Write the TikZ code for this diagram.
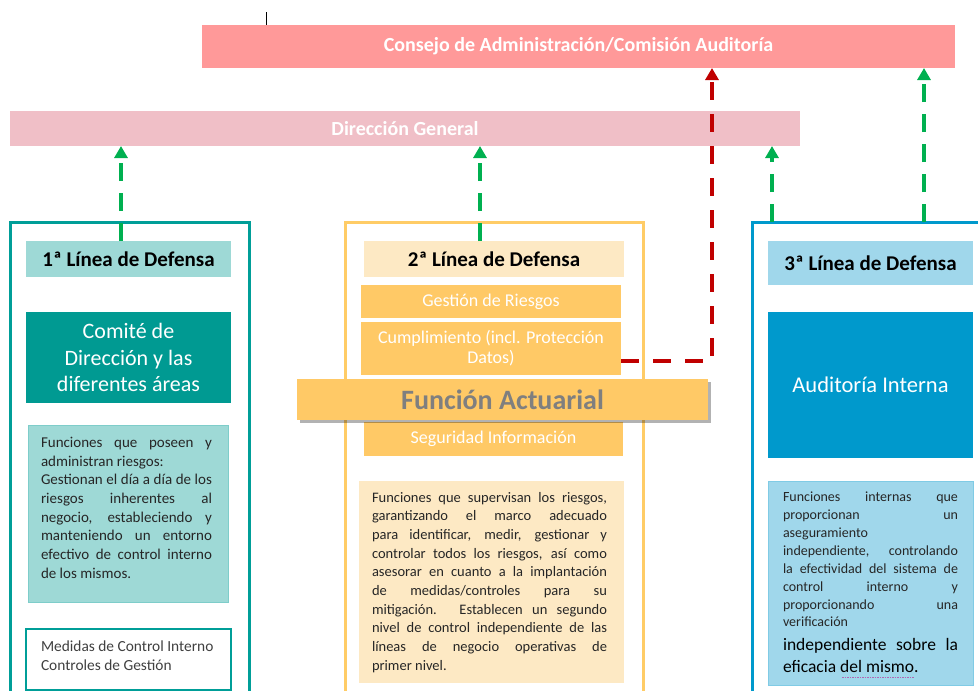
\documentclass[tikz,border=0pt]{standalone}
\usepackage{fontspec}
\setmainfont{Carlito}
\usetikzlibrary{arrows.meta,calc,shadows}
\definecolor{consejoC}{HTML}{FF9999}
\definecolor{direcC}{HTML}{F0BFC7}
\definecolor{tealB}{HTML}{009E98}
\definecolor{tealL}{HTML}{9ED9D6}
\definecolor{tealD}{HTML}{009A92}
\definecolor{orB}{HTML}{FFCC66}
\definecolor{orL}{HTML}{FDE9C4}
\definecolor{orM}{HTML}{FFC966}
\definecolor{blB}{HTML}{0099CC}
\definecolor{blL}{HTML}{A0D7EB}
\definecolor{grA}{HTML}{00B050}
\definecolor{rdA}{HTML}{C00000}
\definecolor{txtC}{HTML}{262626}
\definecolor{faC}{HTML}{7F7F7F}
\newcommand{\jl}[2]{\makebox[#1][s]{#2}}
\tikzset{
  blk/.style={rectangle, inner sep=0pt, outer sep=0pt, draw=none},
  colframe/.style={blk, line width=3pt, fill=white},
  hdr/.style={blk, font=\bfseries\fontsize{21}{24}\selectfont, text=black},
  wtxt/.style={text=white, align=center},
  body/.style={inner sep=0pt, outer sep=0pt, align=left, text=txtC,
               font=\fontsize{14.5}{18.7}\selectfont},
  garrow/.style={draw=grA, line width=4pt, dash pattern=on 18pt off 12pt,
                 -{Triangle[length=12pt,width=13pt]}},
  rarrow/.style={draw=rdA, line width=4pt, dash pattern=on 18pt off 14pt,
                 -{Triangle[length=12pt,width=13pt]}},
}
\begin{document}
\begin{tikzpicture}[x=1pt,y=-1pt]
\useasboundingbox (0,0) rectangle (978,691);
\clip (0,0) rectangle (978,691);

% stray tick
\draw[line width=0.8pt] (266,12) -- (266,27);

% top bars
\node[blk, fill=consejoC, minimum width=753pt, minimum height=43pt,
      font=\bfseries\fontsize{20}{24}\selectfont, text=white] (consejo) at (578.5,46.5)
      {Consejo de Administración/Comisión Auditoría};
\node[blk, fill=direcC, minimum width=790pt, minimum height=35pt,
      font=\bfseries\fontsize{20}{24}\selectfont, text=white] (direccion) at (405,128.5)
      {Dirección General};

% column frames
\node[colframe, draw=tealB, minimum width=239pt, minimum height=520pt] (col1) at (129.5,482) {};
\node[colframe, draw=orB, minimum width=298pt, minimum height=520pt] (col2) at (494,482) {};
\node[colframe, draw=blB, minimum width=260pt, minimum height=520pt] (col3) at (882,482) {};

% ---------- column 1
\node[hdr, fill=tealL, minimum width=205pt, minimum height=36pt] (h1) at (128.5,259) {1ª Línea de Defensa};
\node[blk, fill=tealD, minimum width=205pt, minimum height=91pt, wtxt,
      font=\fontsize{22}{26.5}\selectfont] (com) at (128.5,357.5)
      {Comité de\\Dirección y las\\diferentes áreas};
\node[blk, fill=tealL, draw=tealL!80!tealB, line width=0.6pt, minimum width=200pt, minimum height=177pt] (f1) at (128,513.5) {};
\node[body, anchor=north west, font=\fontsize{15}{18.7}\selectfont] (t1) at (41,437)
  {\jl{171pt}{Funciones que poseen y}\\
   administran riesgos:\\
   \jl{171pt}{Gestionan el día a día de los}\\
   \jl{171pt}{riesgos inherentes al}\\
   \jl{171pt}{negocio, estableciendo y}\\
   \jl{171pt}{manteniendo un entorno}\\
   \jl{171pt}{efectivo de control interno}\\
   de los mismos.};
\node[blk, fill=white, draw=tealB, line width=1.2pt, minimum width=205pt, minimum height=61pt] (m1) at (128.5,659.5) {};
\node[body, anchor=north west, text=black!75, font=\fontsize{15.4}{18.5}\selectfont] (tm1) at (41,641)
  {Medidas de Control Interno\\Controles de Gestión};

% ---------- column 2
\node[hdr, fill=orL, minimum width=260pt, minimum height=36pt] (h2) at (494,259) {2ª Línea de Defensa};
\node[blk, fill=orM, minimum width=260pt, minimum height=33pt, wtxt,
      font=\fontsize{18}{20}\selectfont] (g) at (491,301.5) {Gestión de Riesgos};
\node[blk, fill=orM, minimum width=260pt, minimum height=53pt, wtxt,
      font=\fontsize{18}{20}\selectfont] (c) at (491,348) {Cumplimiento (incl. Protección\\Datos)};
\node[blk, fill=orM, minimum width=259pt, minimum height=34pt, wtxt,
      font=\fontsize{18}{20}\selectfont] (s) at (493.5,439) {Seguridad Información};
\node[blk, fill=orL, minimum width=265pt, minimum height=202pt] (f2) at (491.5,582) {};
\node[body, anchor=north west] (t2) at (372,492)
  {\jl{235pt}{Funciones que supervisan los riesgos,}\\
   \jl{235pt}{garantizando el marco adecuado}\\
   \jl{235pt}{para identificar, medir, gestionar y}\\
   \jl{235pt}{controlar todos los riesgos, así como}\\
   \jl{235pt}{asesorar en cuanto a la implantación}\\
   \jl{235pt}{de medidas/controles para su}\\
   \jl{235pt}{mitigación. Establecen un segundo}\\
   \jl{235pt}{nivel de control independiente de las}\\
   \jl{235pt}{líneas de negocio operativas de}\\
   primer nivel.};
\node[blk, fill=orM, minimum width=411pt, minimum height=41pt,
      drop shadow={shadow xshift=3pt, shadow yshift=-3pt, opacity=0.3, fill=black},
      font=\bfseries\fontsize{28}{32}\selectfont, text=faC] (fa) at (502.5,399.5) {Función Actuarial};

% ---------- column 3
\node[hdr, fill=blL, minimum width=205pt, minimum height=44pt] (h3) at (870.5,263) {3ª Línea de Defensa};
\node[blk, fill=blB, minimum width=205pt, minimum height=146pt, wtxt,
      font=\fontsize{22.5}{26}\selectfont] (ai) at (870.5,385) {Auditoría Interna};
\node[blk, fill=blL, draw=blL!80!blB, line width=0.6pt, minimum width=205pt, minimum height=204pt] (f3) at (870.5,583) {};
\node[body, anchor=north west, font=\fontsize{14}{17.9}\selectfont] (t3) at (783,492)
  {\jl{175pt}{Funciones internas que}\\
   \jl{175pt}{proporcionan un}\\
   aseguramiento\\
   \jl{175pt}{independiente, controlando}\\
   \jl{175pt}{la efectividad del sistema de}\\
   \jl{175pt}{control interno y}\\
   \jl{175pt}{proporcionando una}\\
   verificación};
\node[body, anchor=north west, text=black, font=\fontsize{17.5}{22}\selectfont] (t3b) at (783,638)
  {\jl{175pt}{independiente sobre la}\\
   eficacia del mismo.};
\draw[draw=violet!60, line width=0.8pt, dash pattern=on 1.5pt off 1pt] (842,677) -- (914,677);

% ---------- connectors
\coordinate (gx1) at (121,0);
\coordinate (gx2) at (480,0);
\coordinate (gx3) at (772,0);
\coordinate (gx4) at (924,0);
\coordinate (rx) at (712,0);
\draw[garrow] (gx1 |- h1.north) -- (gx1 |- direccion.south);
\draw[garrow] (gx2 |- h2.north) -- (gx2 |- direccion.south);
\draw[garrow] (gx3 |- col3.north) -- (gx3 |- direccion.south);
\draw[garrow] (gx4 |- col3.north) -- (gx4 |- consejo.south);
\draw[rarrow] ($(c.south east)+(0,-14)$) -| (rx |- consejo.south);
\end{tikzpicture}
\end{document}
